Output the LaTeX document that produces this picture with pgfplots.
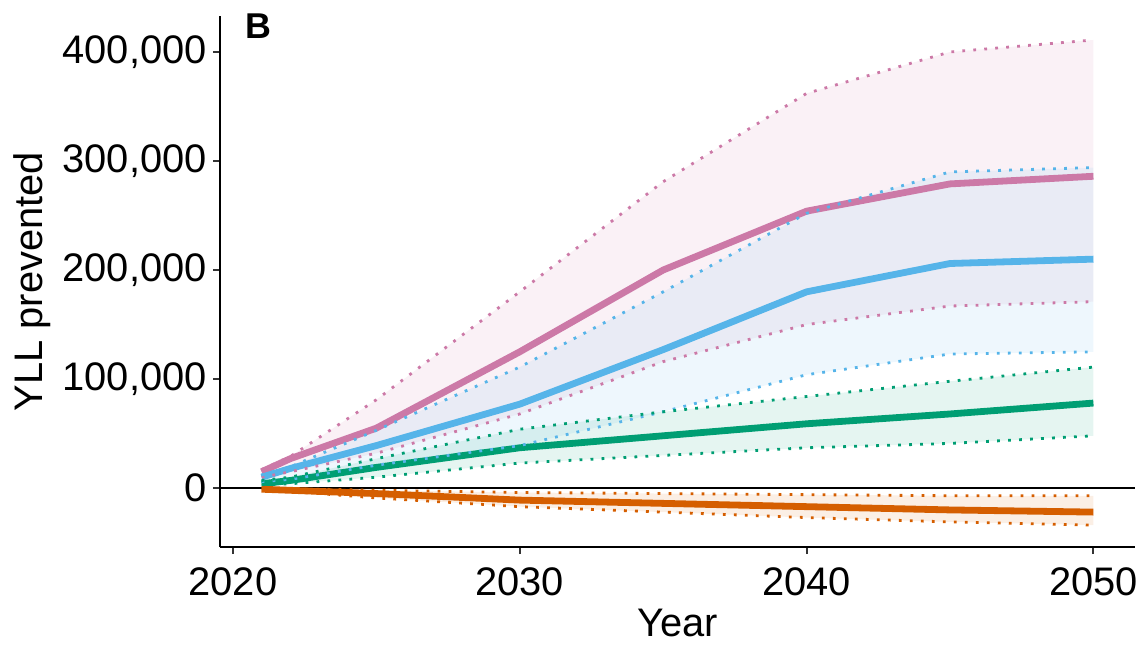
\documentclass[border=0pt]{standalone}
\usepackage{fontspec}
\setmainfont{Liberation Sans}
\usepackage{pgfplots}
\pgfplotsset{compat=1.18}
\usepackage{pgfplotstable}
\usepgfplotslibrary{fillbetween}

\definecolor{cpink}{HTML}{CC79A7}
\definecolor{cblue}{HTML}{56B4E9}
\definecolor{cgreen}{HTML}{009E73}
\definecolor{corange}{HTML}{D55E00}

\pgfplotstableread{
year pmid plo phi bmid blo bhi gmid glo ghi omid olo ohi
2021 15000 10000 17000 10000 6000 12000 4000 3000 7000 -1000 -2000 0
2022 27000 15000 29000 18000 8000 19500 7000 4000 10000 -2000 -3000 -500
2025 55000 32000 81000 39000 21000 53000 19000 10000 27000 -5000 -9000 -2000
2030 125000 68000 180000 77000 39000 111000 37000 23000 54000 -11000 -17000 -4000
2035 200000 116000 281000 127000 70000 180000 48000 30000 70000 -14000 -22000 -5000
2040 254000 150000 362000 180000 104000 252000 59000 37000 84000 -17000 -27000 -6000
2045 279000 167000 400000 206000 123000 290000 68000 41000 98000 -20000 -31000 -7000
2050 286000 171000 411000 210000 125000 294000 78000 48000 111000 -22000 -34000 -7000
}\data

\begin{document}
\begin{tikzpicture}
\begin{axis}[
  at={(0,0)}, anchor=south west,
  scale only axis,
  width=457.5bp, height=265.5bp,
  xmin=2019.55, xmax=2051.45,
  ymin=-54000, ymax=433000,
  axis x line*=bottom, axis y line*=left,
  axis line style={black, line width=1bp},
  tick style={black!80, line width=1bp},
  tick align=outside,
  major tick length=3.5bp,
  xtick={2020,2030,2040,2050},
  xticklabels={2020,2030,2040,2050},
  ytick={0,100000,200000,300000,400000},
  yticklabels={0,{100,000},{200,000},{300,000},{400,000}},
  ticklabel style={font=\fontsize{20}{24}\selectfont},
  xticklabel style={inner sep=0pt, yshift=-6.5bp},
  yticklabel style={inner sep=0pt, xshift=-3bp},
  label style={font=\fontsize{20}{24}\selectfont},
  xlabel={Year},
  xlabel style={at={(axis description cs:0.5,-0.143)}, anchor=center},
  ylabel={YLL prevented},
  ylabel style={at={(axis description cs:-0.2055,0.5)}, anchor=center, rotate=0},
  clip=false,
]
% ribbons
\addplot[draw=none, name path=phi, forget plot] table[x=year,y=phi]{\data};
\addplot[draw=none, name path=plo, forget plot] table[x=year,y=plo]{\data};
\addplot[fill=cpink, fill opacity=0.1, draw=none] fill between[of=phi and plo];
\addplot[draw=none, name path=bhi, forget plot] table[x=year,y=bhi]{\data};
\addplot[draw=none, name path=blo, forget plot] table[x=year,y=blo]{\data};
\addplot[fill=cblue, fill opacity=0.1, draw=none] fill between[of=bhi and blo];
\addplot[draw=none, name path=ghi, forget plot] table[x=year,y=ghi]{\data};
\addplot[draw=none, name path=glo, forget plot] table[x=year,y=glo]{\data};
\addplot[fill=cgreen, fill opacity=0.1, draw=none] fill between[of=ghi and glo];
\addplot[draw=none, name path=ohi, forget plot] table[x=year,y=ohi]{\data};
\addplot[draw=none, name path=olo, forget plot] table[x=year,y=olo]{\data};
\addplot[fill=corange, fill opacity=0.1, draw=none] fill between[of=ohi and olo];
% zero line
\addplot[black, line width=1.1bp] coordinates {(2019.55,0) (2051.45,0)};
% solid lines
\addplot[cpink, line width=3.4bp] table[x=year,y=pmid]{\data};
\addplot[cblue, line width=3.4bp] table[x=year,y=bmid]{\data};
\addplot[cgreen, line width=3.4bp] table[x=year,y=gmid]{\data};
\addplot[corange, line width=3.4bp] table[x=year,y=omid]{\data};
% dotted bounds
\tikzset{dotb/.style={line width=1.4bp, dash pattern=on 1.4bp off 4.1bp}}
\addplot[cpink, dotb] table[x=year,y=phi]{\data};
\addplot[cpink, dotb] table[x=year,y=plo]{\data};
\addplot[cblue, dotb] table[x=year,y=bhi]{\data};
\addplot[cblue, dotb] table[x=year,y=blo]{\data};
\addplot[cgreen, dotb] table[x=year,y=ghi]{\data};
\addplot[cgreen, dotb] table[x=year,y=glo]{\data};
\addplot[corange, dotb] table[x=year,y=ohi]{\data};
\addplot[corange, dotb] table[x=year,y=olo]{\data};
\node[anchor=north west, inner sep=0pt, font=\fontsize{18}{21}\selectfont\bfseries] at ([xshift=12.5bp, yshift=1.5bp]rel axis cs:0,1) {B};
\end{axis}
\pgfresetboundingbox
\path[use as bounding box] (-110bp,-49bp) rectangle (462.5bp,273.5bp);
\end{tikzpicture}
\end{document}
